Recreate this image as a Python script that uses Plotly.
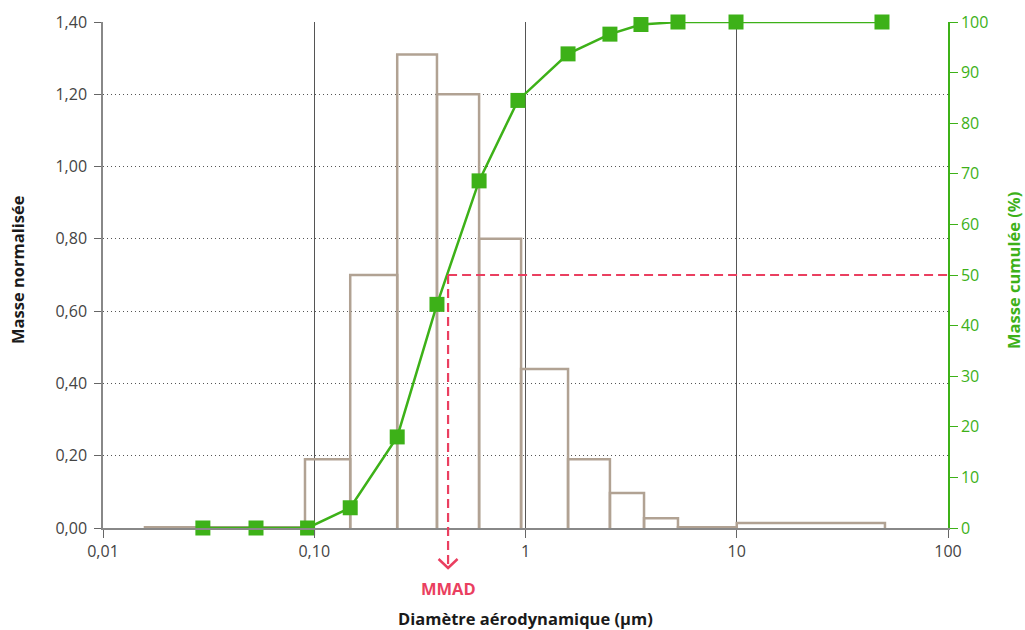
import math
import plotly.graph_objects as go

# ---- data ----
bin_edges = [0.0158, 0.0904, 0.148, 0.247, 0.381, 0.603, 0.953, 1.59, 2.51, 3.64, 5.27, 10.0, 50.3]
bin_heights = [0.002, 0.19, 0.70, 1.31, 1.20, 0.80, 0.44, 0.19, 0.097, 0.027, 0.002, 0.014]

cum_x = [0.0297, 0.053, 0.093, 0.148, 0.247, 0.381, 0.603, 0.921, 1.59, 2.51, 3.52, 5.27, 9.92, 48.7]
cum_y = [0, 0, 0, 4, 18, 44.2, 68.6, 84.5, 93.7, 97.6, 99.5, 100, 100, 100]

mmad = 0.43
mmad_pct = 50

x_tickvals = [0.01, 0.1, 1, 10, 100]
x_ticktext = ["0,01", "0,10", "1", "10", "100"]

# ---- styles ----
GREEN = "#3db118"
TAN = "#b1a293"
RED = "#ea3f60"
FONT = "Open Sans"

# histogram outline built from bin edges
hx, hy = [], []
for i, h in enumerate(bin_heights):
    l, r = bin_edges[i], bin_edges[i + 1]
    hx += [l, l, r, r, None]
    hy += [0, h, h, 0, None]

fig = go.Figure()
fig.add_trace(go.Scatter(x=hx, y=hy, mode="lines",
                         line=dict(color=TAN, width=2.5), hoverinfo="skip",
                         showlegend=False, yaxis="y"))
fig.add_trace(go.Scatter(x=cum_x, y=cum_y, mode="lines+markers",
                         line=dict(color=GREEN, width=2.5),
                         marker=dict(symbol="square", size=15, color=GREEN),
                         showlegend=False, yaxis="y2", cliponaxis=False))

lx = math.log10(mmad)
tip_paper = -40 / 506  # just below the x axis

shapes = [
    # horizontal dashed line at 50 %
    dict(type="line", xref="x", yref="y2", x0=mmad, x1=100, y0=mmad_pct, y1=mmad_pct,
         line=dict(color=RED, width=2.2, dash="9px,5px")),
    # vertical dashed line down to MMAD
    dict(type="line", xref="x", yref="paper", x0=mmad, x1=mmad, y0=mmad_pct / 100, y1=tip_paper,
         line=dict(color=RED, width=2.2, dash="9px,5px")),
    # chevron
    dict(type="path", xref="x", yref="paper", xsizemode="pixel", ysizemode="pixel",
         xanchor=mmad, yanchor=tip_paper, path="M-9.5,9 L0,0 L9.5,9",
         line=dict(color=RED, width=2.5)),
]

annotations = [
    dict(text="<b>MMAD</b>", xref="x", yref="paper", x=lx, y=-60 / 506,
         showarrow=False, font=dict(family=FONT, size=16.5, color=RED),
         xanchor="center", yanchor="middle"),
    dict(text="<b>Diamètre aérodynamique (µm)</b>", xref="paper", yref="paper",
         x=0.5, y=-90 / 506, showarrow=False,
         font=dict(family=FONT, size=16.5, color="#1a1a1a"),
         xanchor="center", yanchor="middle"),
    dict(text="<b>Masse normalisée</b>", xref="paper", yref="paper",
         x=-85 / 845, y=0.51, showarrow=False, textangle=-90,
         font=dict(family=FONT, size=16.5, color="#1a1a1a"),
         xanchor="center", yanchor="middle"),
    dict(text="<b>Masse cumulée (%)</b>", xref="paper", yref="paper",
         x=1 + 66 / 845, y=0.51, showarrow=False, textangle=-90,
         font=dict(family=FONT, size=16.5, color=GREEN),
         xanchor="center", yanchor="middle"),
]

fig.update_layout(
    width=1025, height=630,
    margin=dict(l=103, r=77, t=22, b=102),
    paper_bgcolor="white", plot_bgcolor="white",
    separators=", ",
    font=dict(family=FONT, size=16, color="#444"),
    xaxis=dict(type="log", range=[-2, 2], tickvals=x_tickvals, ticktext=x_ticktext,
               showgrid=True, gridcolor="#555", gridwidth=1,
               showline=True, linecolor="#888", linewidth=1.5,
               ticks="outside", ticklen=8, tickcolor="#666",
               tickfont=dict(family=FONT, size=16, color="#444"),
               zeroline=False),
    yaxis=dict(range=[0, 1.4], dtick=0.2, tickformat=".2f",
               showgrid=True, gridcolor="#555", gridwidth=1, griddash="1px,3px",
               showline=True, linecolor="#888", linewidth=1.5,
               ticks="outside", ticklen=7, tickcolor="#666",
               ticklabelstandoff=4,
               tickfont=dict(family=FONT, size=16, color="#444"),
               zeroline=False),
    yaxis2=dict(range=[0, 100], dtick=10, overlaying="y", side="right",
                showgrid=False, showline=True, linecolor=GREEN, linewidth=1.5,
                ticks="outside", ticklen=8, tickcolor=GREEN,
                tickfont=dict(family=FONT, size=16, color=GREEN),
                zeroline=False),
    shapes=shapes,
    annotations=annotations,
)

fig.write_html("out.html")
